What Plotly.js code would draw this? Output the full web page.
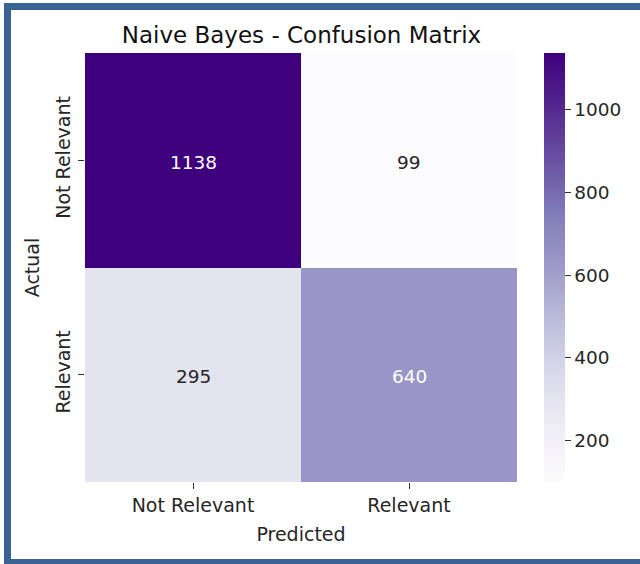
<!DOCTYPE html>
<html>
<head>
<meta charset="utf-8">
<script src="https://cdn.plot.ly/plotly-3.0.1.min.js"></script>
<style>
  html, body { margin: 0; padding: 0; background: #ffffff; }
  #wrap { position: relative; width: 640px; height: 564px; overflow: hidden; }
  #chart { position: absolute; left: 0; top: 0; width: 640px; height: 564px; }
  .fr { position: absolute; background: #3a6394; }
</style>
</head>
<body>
<div id="wrap">
  <div id="chart"></div>
  <div class="fr" style="left:4px; top:3px; width:640px; height:7px;"></div>
  <div class="fr" style="left:4px; top:3px; width:7px; height:570px;"></div>
  <div class="fr" style="left:4px; top:559px; width:640px; height:8px;"></div>
</div>
<script>
// Data
const predictedLabels = ["Not Relevant", "Relevant"];
const actualLabels = ["Not Relevant", "Relevant"];
const counts = [
  [1138, 99],
  [295, 640]
];
const colorbarTicks = [200, 400, 600, 800, 1000];

const purples = [
  [0.0, "#fcfbfd"], [0.125, "#efedf5"], [0.25, "#dadaeb"], [0.375, "#bcbddc"],
  [0.5, "#9e9ac8"], [0.625, "#807dba"], [0.75, "#6a51a3"], [0.875, "#54278f"], [1.0, "#3f007d"]
];

const flat = counts.flat();
const zmin = Math.min(...flat), zmax = Math.max(...flat);
const mid = (zmin + zmax) / 2;

const annotations = [];
counts.forEach((row, i) => {
  row.forEach((v, j) => {
    annotations.push({
      x: predictedLabels[j], y: actualLabels[i], xref: "x", yref: "y",
      text: String(v), showarrow: false, yshift: -2,
      font: { family: "DejaVu Sans", size: 18.5, color: v > mid ? "#ffffff" : "#262626" }
    });
  });
});

const trace = {
  type: "heatmap",
  x: predictedLabels,
  y: actualLabels,
  z: counts,
  zmin: zmin, zmax: zmax,
  colorscale: purples,
  xgap: 0, ygap: 0,
  colorbar: {
    x: 1.0625, xanchor: "left", xref: "paper",
    y: 0.5, yanchor: "middle", len: 1, lenmode: "fraction",
    ypad: 0, xpad: 0,
    thickness: 21, outlinewidth: 0,
    tickmode: "array", tickvals: colorbarTicks,
    ticks: "outside", ticklen: 6, tickwidth: 1, tickcolor: "#333333",
    tickfont: { family: "DejaVu Sans", size: 18.5, color: "#262626" }
  }
};

const layout = {
  width: 640, height: 564,
  margin: { l: 85, r: 123, t: 53, b: 82, autoexpand: false },
  paper_bgcolor: "#ffffff", plot_bgcolor: "#ffffff",
  font: { family: "DejaVu Sans", color: "#262626" },
  title: {
    text: "Naive Bayes - Confusion Matrix",
    font: { family: "DejaVu Sans", size: 23, color: "#111111" },
    x: 0.471, xanchor: "center", y: 0.938, yanchor: "middle", yref: "container"
  },
  xaxis: {
    type: "category",
    title: { text: "Predicted", font: { family: "DejaVu Sans", size: 19, color: "#262626" }, standoff: 12 },
    ticks: "outside", ticklen: 6, tickwidth: 1, tickcolor: "#333333",
    tickfont: { family: "DejaVu Sans", size: 19, color: "#262626" },
    showgrid: false, zeroline: false, showline: false, fixedrange: true
  },
  yaxis: {
    type: "category",
    autorange: "reversed",
    title: { text: "Actual", font: { family: "DejaVu Sans", size: 19, color: "#262626" }, standoff: 7 },
    ticks: "outside", ticklen: 6, tickwidth: 1, tickcolor: "#333333",
    tickangle: -90,
    tickfont: { family: "DejaVu Sans", size: 19, color: "#262626" },
    showgrid: false, zeroline: false, showline: false, fixedrange: true
  },
  annotations: annotations
};

Plotly.newPlot("chart", [trace], layout, { displayModeBar: false, staticPlot: true });
</script>
</body>
</html>
